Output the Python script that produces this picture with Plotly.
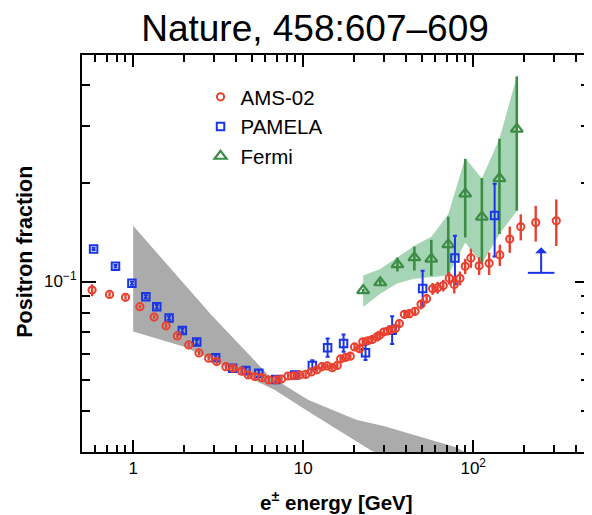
import numpy as np
import plotly.graph_objects as go

# ---------------- data ----------------
ams_E = [0.573, 0.726, 0.901, 1.095, 1.328, 1.562, 1.819, 2.122, 2.439, 2.780,
         3.097, 3.511, 3.876, 4.341, 4.746, 5.195, 5.733, 6.277, 6.899, 7.450,
         8.145, 8.832, 9.539, 10.34, 11.17, 12.05, 12.89, 13.87, 14.84, 15.87,
         16.60, 17.76, 18.92, 20.05, 21.45, 22.42, 23.99, 25.46, 27.09, 28.10,
         29.78, 31.44, 32.91, 34.86, 36.81, 39.38, 42.13, 45.50, 49.34, 53.22,
         57.72, 61.76, 66.68, 72.31, 77.37, 83.56, 89.77, 96.94, 108.4, 124.1,
         143.4, 164.1, 190.5, 233.2, 308.1]
ams_f = [0.0941, 0.0913, 0.0894, 0.0837, 0.0778, 0.0731, 0.0681, 0.0639, 0.0604, 0.0582,
         0.0568, 0.0548, 0.0542, 0.0531, 0.0517, 0.0511, 0.0507, 0.0499, 0.0499, 0.0502,
         0.0513, 0.0514, 0.0517, 0.0519, 0.0528, 0.0536, 0.0548, 0.0551, 0.0544, 0.0553,
         0.0579, 0.0585, 0.0590, 0.0630, 0.0622, 0.0653, 0.0658, 0.0664, 0.0676, 0.0684,
         0.0700, 0.0705, 0.0712, 0.0718, 0.0743, 0.0793, 0.0797, 0.0810, 0.0851, 0.0886,
         0.0950, 0.0957, 0.0972, 0.1023, 0.0979, 0.1023, 0.1113, 0.1181, 0.1117, 0.1137,
         0.1206, 0.1349, 0.1472, 0.1516, 0.1535]
ams_err = [0.004, 0.0015, 0.0015, 0.001, 0.001, 0.001, 0.001, 0.001, 0.001, 0.001,
           0.001, 0.001, 0.001, 0.001, 0.001, 0.001, 0.001, 0.001, 0.001, 0.001,
           0.001, 0.001, 0.001, 0.001, 0.001, 0.001, 0.001, 0.001, 0.001, 0.001,
           0.0015, 0.0015, 0.0015, 0.0015, 0.0015, 0.0015, 0.0015, 0.002, 0.002, 0.002,
           0.002, 0.002, 0.002, 0.002, 0.002, 0.0025, 0.0025, 0.0025, 0.003, 0.003,
           0.004, 0.004, 0.004, 0.0045, 0.006, 0.005, 0.006, 0.008, 0.007, 0.009,
           0.009, 0.0125, 0.0135, 0.019, 0.025]

pam_E = [0.585, 0.787, 0.983, 1.187, 1.377, 1.626, 1.946, 2.364, 3.055, 3.845,
         4.600, 5.483, 6.899, 8.917, 11.32, 13.92, 17.28, 23.26, 33.37, 50.42,
         78.10, 133.7]
pam_f = [0.1258, 0.1113, 0.0988, 0.0898, 0.0837, 0.0773, 0.0707, 0.0652, 0.0584, 0.0542,
         0.0533, 0.0523, 0.0501, 0.0517, 0.0553, 0.0626, 0.0646, 0.0605, 0.0709, 0.0952,
         0.1181, 0.1593]
pam_err_up = [0.001, 0.001, 0.001, 0.001, 0.001, 0.001, 0.001, 0.001, 0.001, 0.0012,
              0.0012, 0.0012, 0.0012, 0.0012, 0.002, 0.0043, 0.0042, 0.0035, 0.0074, 0.0127,
              0.020, 0.040]
pam_err_dn = [0.001, 0.001, 0.001, 0.001, 0.001, 0.001, 0.001, 0.001, 0.001, 0.0012,
              0.0012, 0.0012, 0.0012, 0.0012, 0.0019, 0.0038, 0.0037, 0.0031, 0.0066, 0.011,
              0.020, 0.040]
pam_limit_E = [251]
pam_limit_f = [0.1063]

fermi_E = [22.54, 28.41, 35.84, 45.08, 56.72, 71.36, 89.77, 112.5, 142.7, 180.5]
fermi_f = [0.0939, 0.0992, 0.1127, 0.1184, 0.1173, 0.1299, 0.1859, 0.1578, 0.2071, 0.2934]
fermi_err_up = [0.001, 0.002, 0.0057, 0.0095, 0.0169, 0.0282, 0.0517, 0.0497, 0.0671, 0.1323]
fermi_err_dn = [0.001, 0.002, 0.0054, 0.0103, 0.0132, 0.0247, 0.0494, 0.0443, 0.0673, 0.1285]
fermi_band_hi = [0.1043, 0.1093, 0.1186, 0.1288, 0.1371, 0.1608, 0.2393, 0.2071, 0.2742, 0.4246]
fermi_band_lo = [0.0835, 0.0917, 0.0988, 0.1019, 0.1030, 0.1043, 0.1318, 0.1132, 0.1398, 0.1646]

secondary_E_hi = [1.0, 2.894, 6.22, 10.67, 20.51, 30.06, 79.15, 150.0]
secondary_f_hi = [0.1482, 0.0788, 0.0517, 0.0434, 0.0377, 0.0360, 0.0310, 0.0260]
secondary_E_lo = [1.0, 2.018, 6.81, 10.67, 25.1, 60.0]
secondary_f_lo = [0.0702, 0.0630, 0.0465, 0.0400, 0.0303, 0.0250]

x_tickvals = [1, 10, 100]
x_ticktext = ["1", "10", "10<sup>2</sup>"]
x_minor = [0.6, 0.7, 0.8, 0.9, 2, 3, 4, 5, 6, 7, 8, 9,
           20, 30, 40, 50, 60, 70, 80, 90, 200, 300, 400]
y_tickvals = [0.1]
y_ticktext = ["10<sup>\u22121</sup>"]
y_minor = [0.04, 0.05, 0.06, 0.07, 0.08, 0.09, 0.2, 0.3, 0.4]

# ---------------- styling ----------------
RED = "#e8402f"
BLUE = "#1a35e6"
GREEN = "#3c8c46"
GREEN_BAND = "rgb(166,213,181)"
GRAY_BAND = "#ababab"
FONT = "Liberation Sans, Arial, Helvetica, sans-serif"

# page body adds an 8px offset, so the figure is drawn 8px smaller
W, H = 584, 507

fig = go.Figure()

fig.add_trace(go.Scatter(
    x=secondary_E_hi + secondary_E_lo[::-1],
    y=secondary_f_hi + secondary_f_lo[::-1],
    fill="toself", fillcolor=GRAY_BAND, line=dict(width=0, color=GRAY_BAND),
    mode="lines", showlegend=False, hoverinfo="skip"))

fig.add_trace(go.Scatter(
    x=fermi_E + fermi_E[::-1],
    y=fermi_band_hi + fermi_band_lo[::-1],
    fill="toself", fillcolor=GREEN_BAND, line=dict(width=0, color=GREEN_BAND),
    mode="lines", showlegend=False, hoverinfo="skip"))

fig.add_trace(go.Scatter(
    x=fermi_E, y=fermi_f, mode="markers", name="Fermi", legendrank=3,
    marker=dict(symbol="triangle-up-open", size=10.5, color=GREEN, line=dict(width=2.2, color=GREEN)),
    error_y=dict(type="data", array=fermi_err_up, arrayminus=fermi_err_dn,
                 color=GREEN, thickness=2.6, width=0)))

fig.add_trace(go.Scatter(
    x=pam_E, y=pam_f, mode="markers", name="PAMELA", legendrank=2,
    marker=dict(symbol="square-open", size=7.5, color=BLUE, line=dict(width=2, color=BLUE)),
    error_y=dict(type="data", array=pam_err_up, arrayminus=pam_err_dn,
                 color=BLUE, thickness=2, width=2)))

fig.add_trace(go.Scatter(
    x=pam_limit_E, y=pam_limit_f, mode="markers", showlegend=False, hoverinfo="skip",
    marker=dict(symbol="line-ew-open", size=19, color=BLUE, line=dict(width=2, color=BLUE))))

fig.add_trace(go.Scatter(
    x=ams_E, y=ams_f, mode="markers", name="AMS-02", legendrank=1,
    marker=dict(symbol="circle-open", size=7.2, color=RED, line=dict(width=2, color=RED)),
    error_y=dict(type="data", array=ams_err, color=RED, thickness=2.4, width=0)))

# lower-limit arrow
for e, f in zip(pam_limit_E, pam_limit_f):
    fig.add_annotation(x=np.log10(e), y=np.log10(f), xref="x", yref="y",
                       ax=0, ay=-27, showarrow=True, arrowside="start",
                       arrowhead=2, arrowsize=1.2, arrowwidth=2, arrowcolor=BLUE,
                       text="", standoff=0, startstandoff=0)

axis_common = dict(type="log", showline=True, linewidth=2, linecolor="black",
                   mirror="allticks", ticks="inside", tickwidth=2, tickcolor="black",
                   showgrid=False, zeroline=False,
                   tickfont=dict(family=FONT, size=17, color="black"))

fig.update_xaxes(**axis_common, range=[np.log10(0.5), np.log10(480)],
                 tickmode="array", tickvals=x_tickvals, ticktext=x_ticktext, ticklen=12,
                 minor=dict(ticks="inside", ticklen=7, tickwidth=1.5, tickcolor="black",
                            tickmode="array", tickvals=x_minor, showgrid=False))
fig.update_yaxes(**axis_common, range=[np.log10(0.03), np.log10(0.495)],
                 tickmode="array", tickvals=y_tickvals, ticktext=y_ticktext, ticklen=14,
                 minor=dict(ticks="inside", ticklen=8, tickwidth=1.5, tickcolor="black",
                            tickmode="array", tickvals=y_minor, showgrid=False))

fig.add_annotation(text="<b>Positron fraction</b>", textangle=-90,
                   xref="paper", yref="paper", x=-0.114, y=0.505,
                   xanchor="center", yanchor="middle", showarrow=False,
                   font=dict(family=FONT, size=21.5, color="black"))
fig.add_annotation(text="<b>e<sup>\u00b1</sup> energy [GeV]</b>",
                   xref="paper", yref="paper", x=0.502, y=-0.124,
                   xanchor="center", yanchor="middle", showarrow=False,
                   font=dict(family=FONT, size=20.5, color="black"))

fig.update_layout(
    width=W, height=H,
    margin=dict(l=74, r=1, t=47, b=63),
    paper_bgcolor="white", plot_bgcolor="white",
    title=dict(text="Nature, 458:607\u2013609", x=307 / W, xanchor="center",
               y=1 - 20 / H, yanchor="middle",
               font=dict(family=FONT, size=37, color="black")),
    legend=dict(x=(201 - 82) / 509, y=(452 - 77) / 397, xanchor="left", yanchor="top",
                bgcolor="rgba(0,0,0,0)", borderwidth=0,
                font=dict(family=FONT, size=20.5, color="black"),
                traceorder="normal"),
    showlegend=True,
)

fig.write_html("out.html")
